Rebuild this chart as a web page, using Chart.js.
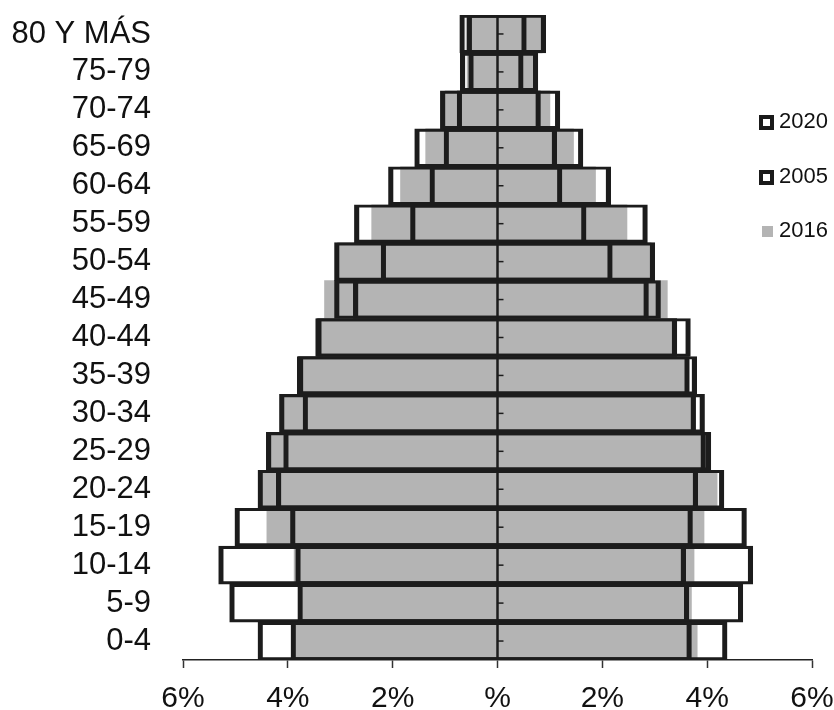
<!DOCTYPE html>
<html>
<head>
<meta charset="utf-8">
<script src="https://cdn.jsdelivr.net/npm/chart.js@4"></script>
<style>
  body { margin: 0; background: #fff; }
  #wrap { width: 834px; height: 710px; position: relative; }
</style>
</head>
<body>
<div id="wrap"><canvas id="piramide"></canvas></div>
<script>
// grupos de edad, de arriba hacia abajo
var edades = ['80 Y MÁS', '75-79', '70-74', '65-69', '60-64', '55-59', '50-54', '45-49',
  '40-44', '35-39', '30-34', '25-29', '20-24', '15-19', '10-14', '5-9', '0-4'];

// % de población, lado izquierdo y lado derecho
var izq2020 = [0.72, 0.71, 1.09, 1.58, 2.08, 2.73, 3.11, 3.11, 3.47, 3.82, 4.16, 4.41, 4.57, 3.95, 3.85, 3.81, 3.94];
var der2020 = [0.92, 0.77, 1.19, 1.63, 2.16, 2.86, 3.00, 3.11, 3.68, 3.80, 3.95, 4.07, 4.32, 3.72, 3.59, 3.65, 3.70];
var izq2005 = [0.58, 0.55, 0.77, 1.02, 1.29, 1.66, 2.22, 2.75, 3.45, 3.80, 3.71, 4.08, 4.22, 5.01, 5.32, 5.11, 4.57];
var der2005 = [0.55, 0.49, 0.82, 1.13, 1.23, 1.69, 2.19, 2.88, 3.42, 3.66, 3.78, 3.97, 3.82, 4.75, 4.87, 4.68, 4.38];
var izq2016 = [0.60, 0.58, 1.00, 1.37, 1.85, 2.40, 3.05, 3.30, 3.42, 3.78, 4.10, 4.35, 4.50, 4.40, 3.88, 3.80, 3.92];
var der2016 = [0.85, 0.72, 1.00, 1.45, 1.87, 2.47, 2.93, 3.24, 3.42, 3.65, 3.75, 3.94, 4.19, 3.94, 3.75, 3.70, 3.81];

var etiquetasX = ['6%', '4%', '2%', '%', '2%', '4%', '6%'];

var fuente = "'Liberation Sans', Arial, sans-serif";

function tramo(izq, der) {
  return izq.map(function (v, i) { return [-v, der[i]]; });
}

// eje central (0 %) con sus ticks cortos, por encima de las barras
var ejeCentro = {
  id: 'ejeCentro',
  afterDatasetsDraw: function (chart) {
    var ctx = chart.ctx;
    var area = chart.chartArea;
    var x0 = chart.scales.x.getPixelForValue(0);
    var y = chart.scales.y;
    ctx.save();
    ctx.strokeStyle = '#1c1c1c';
    ctx.lineWidth = 2.5;
    ctx.beginPath();
    ctx.moveTo(x0, area.top);
    ctx.lineTo(x0, area.bottom);
    ctx.stroke();
    ctx.lineWidth = 1.5;
    y.ticks.forEach(function (t, i) {
      var py = y.getPixelForTick(i);
      ctx.beginPath();
      ctx.moveTo(x0, py);
      ctx.lineTo(x0 + 6, py);
      ctx.stroke();
    });
    ctx.restore();
  }
};

// leyenda a la derecha
var leyenda = {
  id: 'leyenda',
  afterDraw: function (chart) {
    var ctx = chart.ctx;
    var ys = [122, 177, 231];
    ctx.save();
    ctx.font = '22px ' + fuente;
    ctx.textBaseline = 'middle';
    chart.data.datasets.forEach(function (ds, i) {
      var y = ys[i];
      if (ds.borderWidth) {
        ctx.fillStyle = '#1a1a1a';
        ctx.fillRect(759, y - 7, 15, 15);
        ctx.fillStyle = '#fff';
        ctx.fillRect(763, y - 3, 7, 7);
      } else {
        ctx.fillStyle = ds.backgroundColor;
        ctx.fillRect(762, y - 5, 11, 11);
      }
      ctx.fillStyle = '#111';
      ctx.fillText(ds.label, 779, y);
    });
    ctx.restore();
  }
};

var borde = { top: 2.5, bottom: 2.5, left: 4.5, right: 4.5 };

new Chart(document.getElementById('piramide'), {
  type: 'bar',
  data: {
    labels: edades,
    datasets: [
      {
        label: '2020',
        data: tramo(izq2020, der2020),
        backgroundColor: 'rgba(0,0,0,0)',
        borderColor: '#1c1c1c',
        borderWidth: borde,
        borderSkipped: false
      },
      {
        label: '2005',
        data: tramo(izq2005, der2005),
        backgroundColor: 'rgba(0,0,0,0)',
        borderColor: '#1c1c1c',
        borderWidth: borde,
        borderSkipped: false
      },
      {
        label: '2016',
        data: tramo(izq2016, der2016),
        backgroundColor: '#b4b4b4',
        borderWidth: 0
      }
    ]
  },
  options: {
    indexAxis: 'y',
    responsive: true,
    maintainAspectRatio: false,
    animation: false,
    grouped: false,
    barPercentage: 1,
    categoryPercentage: 1,
    layout: { padding: { top: 15, right: 22, bottom: 0, left: 0 } },
    scales: {
      x: {
        min: -6,
        max: 6,
        ticks: {
          stepSize: 2,
          padding: 16,
          color: '#111',
          font: { family: fuente, size: 30, lineHeight: 1 },
          callback: function (value, index) { return etiquetasX[index]; }
        },
        grid: {
          drawOnChartArea: false,
          tickColor: '#333',
          tickLength: 8,
          tickWidth: 1.5
        },
        border: { display: true, color: '#222', width: 1.5 },
        afterFit: function (scale) {
          scale.height = 50;
          scale.paddingLeft = 0;
          scale.paddingRight = 0;
        }
      },
      y: {
        grid: { display: false },
        border: { display: false },
        ticks: {
          autoSkip: false,
          padding: 24,
          color: '#111',
          font: { family: fuente, size: 31 }
        },
        afterFit: function (scale) {
          scale.width = 183;
          scale.paddingTop = 0;
          scale.paddingBottom = 0;
        }
      }
    },
    plugins: {
      legend: { display: false },
      tooltip: { enabled: false }
    }
  },
  plugins: [ejeCentro, leyenda]
});
</script>
</body>
</html>
